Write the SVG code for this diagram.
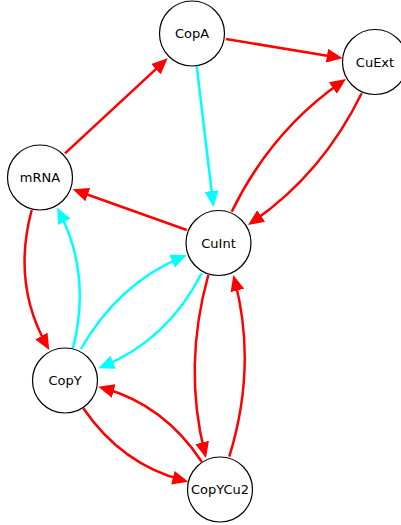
<svg xmlns="http://www.w3.org/2000/svg" width="401" height="525" viewBox="0 0 401 525">
  <style>
    .node circle { fill: #ffffff; stroke: #000000; stroke-width: 1.2; }
    .node text { font-family: "DejaVu Sans", sans-serif; font-size: 13px; fill: #000000; text-anchor: middle; }
    .edge { fill: none; stroke-width: 2.5; stroke-linecap: butt; }
    .red { stroke: #ff0000; marker-end: url(#headRed); }
    .cyan { stroke: #00ffff; marker-end: url(#headCyan); }
  </style>
  <defs>
    <marker id="headRed" markerUnits="userSpaceOnUse" markerWidth="16" markerHeight="14" refX="11" refY="7" orient="auto">
      <path d="M0,0 L16,7 L0,14 z" fill="#ff0000"/>
    </marker>
    <marker id="headCyan" markerUnits="userSpaceOnUse" markerWidth="16" markerHeight="14" refX="11" refY="7" orient="auto">
      <path d="M0,0 L16,7 L0,14 z" fill="#00ffff"/>
    </marker>
  </defs>
  <rect width="401" height="525" fill="#ffffff"/>

  <g id="edges">
    <!-- mRNA -> CopA -->
    <path class="edge red" d="M65,153.3 L164,61.7"/>
    <!-- CopA -> CuExt -->
    <path class="edge red" d="M226,39 L337.8,57.5"/>
    <!-- CopA -> CuInt -->
    <path class="edge cyan" d="M196.7,66 L212.9,202"/>
    <!-- CuInt -> mRNA -->
    <path class="edge red" d="M186.7,230 L77.4,191"/>
    <!-- CuInt -> CuExt -->
    <path class="edge red" d="M231.7,211.7 Q271.5,130.4 341.9,81.8"/>
    <!-- CuExt -> CuInt -->
    <path class="edge red" d="M361.7,93.3 Q322,174.4 252.1,222.2"/>
    <!-- mRNA -> CopY -->
    <path class="edge red" d="M31.7,210 Q11.9,283.6 46.8,345.6"/>
    <!-- CopY -> mRNA -->
    <path class="edge cyan" d="M73,348.3 Q91.6,274.4 59.3,211.9"/>
    <!-- CopY -> CuInt -->
    <path class="edge cyan" d="M81,349 Q117.9,284 182.1,256.9"/>
    <!-- CuInt -> CopY -->
    <path class="edge cyan" d="M201.7,273.3 Q167.6,340 102.9,366.4"/>
    <!-- CuInt -> CopYCu2 -->
    <path class="edge red" d="M208.3,275 Q183,366.5 204.8,453.2"/>
    <!-- CopYCu2 -> CuInt -->
    <path class="edge red" d="M229.3,456.7 Q257.3,365.8 234.6,279.8"/>
    <!-- CopYCu2 -> CopY -->
    <path class="edge red" d="M201.7,461.7 Q164.1,404.8 103.1,388"/>
    <!-- CopY -> CopYCu2 -->
    <path class="edge red" d="M83.3,408.3 Q122,464.7 183.5,480.5"/>
  </g>

  <g id="CopA" class="node">
    <circle cx="192" cy="33.5" r="32.5"/>
    <text x="192" y="38">CopA</text>
  </g>
  <g id="CuExt" class="node">
    <circle cx="375" cy="62" r="32.5"/>
    <text x="375" y="66.5">CuExt</text>
  </g>
  <g id="mRNA" class="node">
    <circle cx="40" cy="177.5" r="32.5"/>
    <text x="40" y="182">mRNA</text>
  </g>
  <g id="CuInt" class="node">
    <circle cx="218.5" cy="243" r="32.5"/>
    <text x="218.5" y="247.5">CuInt</text>
  </g>
  <g id="CopY" class="node">
    <circle cx="65" cy="380.5" r="32.5"/>
    <text x="65" y="385">CopY</text>
  </g>
  <g id="CopYCu2" class="node">
    <circle cx="220" cy="489.5" r="32.5"/>
    <text x="220" y="494">CopYCu2</text>
  </g>
</svg>
